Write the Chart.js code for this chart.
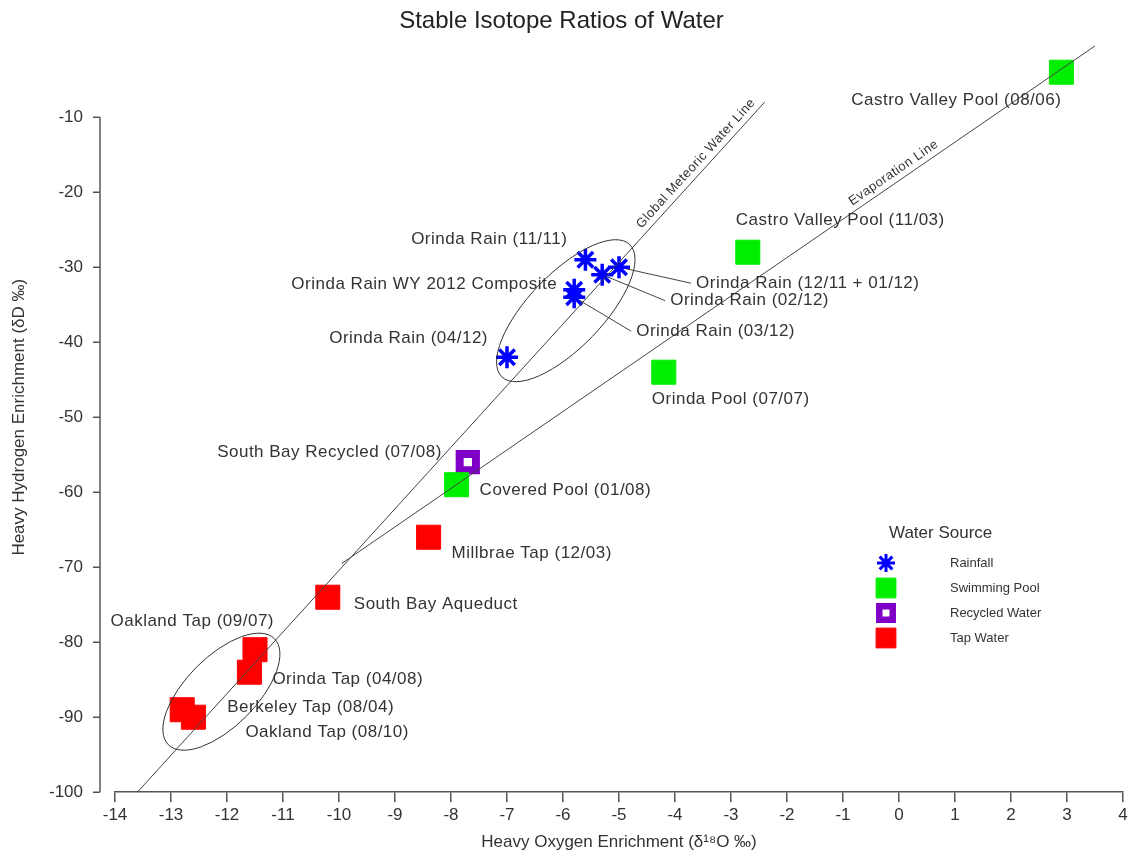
<!DOCTYPE html>
<html>
<head>
<meta charset="utf-8">
<title>Stable Isotope Ratios of Water</title>
<script src="https://cdn.jsdelivr.net/npm/chart.js@4.4.1/dist/chart.umd.min.js"></script>
<style>
  html, body { margin: 0; padding: 0; background: #fff; }
  #wrap { width: 1131px; height: 853px; }
</style>
</head>
<body>
<div id="wrap"><canvas id="isotopes"></canvas></div>
<script>
// values: x = δ18O (‰), y = δD (‰)
const rainNames = ["Orinda Rain (11/11)", "Orinda Rain (12/11 + 01/12)", "Orinda Rain (02/12)",
  "Orinda Rain WY 2012 Composite", "Orinda Rain (03/12)", "Orinda Rain (04/12)"];
const rainO = [-5.6, -5.0, -5.3, -5.8, -5.8, -7.0];
const rainD = [-29, -30, -31, -33, -34, -42];

const poolNames = ["Castro Valley Pool (08/06)", "Castro Valley Pool (11/03)", "Orinda Pool (07/07)", "Covered Pool (01/08)"];
const poolO = [2.9, -2.7, -4.2, -7.9];
const poolD = [-4, -28, -44, -59];

const recycledNames = ["South Bay Recycled (07/08)"];
const recycledO = [-7.7];
const recycledD = [-56];

const tapNames = ["Millbrae Tap (12/03)", "South Bay Aqueduct", "Oakland Tap (09/07)", "Orinda Tap (04/08)",
  "Berkeley Tap (08/04)", "Oakland Tap (08/10)"];
const tapO = [-8.4, -10.2, -11.5, -11.6, -12.8, -12.6];
const tapD = [-66, -74, -81, -84, -89, -90];

// reference lines (end points)
const gmwlO = [-13.6, -2.4];
const gmwlD = [-100, -8];
const evapO = [-9.95, 3.5];
const evapD = [-69.5, -0.5];

const xTicks = [-14, -13, -12, -11, -10, -9, -8, -7, -6, -5, -4, -3, -2, -1, 0, 1, 2, 3, 4];
const yTicks = [-100, -90, -80, -70, -60, -50, -40, -30, -20, -10];

const FONT = "'Liberation Sans', Arial, sans-serif";
Chart.defaults.font.family = FONT;
Chart.defaults.color = "#333";

// where each point label sits, in px from its marker
const labelPlace = {
  "Orinda Rain (11/11)": { dx: -18, dy: -20, align: "right" },
  "Orinda Rain (12/11 + 01/12)": { dx: 77, dy: 16, align: "left", leader: true },
  "Orinda Rain (02/12)": { dx: 68, dy: 26, align: "left", leader: true },
  "Orinda Rain WY 2012 Composite": { dx: -17, dy: -5, align: "right" },
  "Orinda Rain (03/12)": { dx: 62, dy: 34, align: "left", leader: true },
  "Orinda Rain (04/12)": { dx: -19, dy: -19, align: "right" },
  "Castro Valley Pool (08/06)": { dx: 0, dy: 28, align: "right" },
  "Castro Valley Pool (11/03)": { dx: -12, dy: -32, align: "left" },
  "Orinda Pool (07/07)": { dx: -12, dy: 27, align: "left" },
  "Covered Pool (01/08)": { dx: 23, dy: 6, align: "left" },
  "South Bay Recycled (07/08)": { dx: -26, dy: -10, align: "right" },
  "Millbrae Tap (12/03)": { dx: 23, dy: 16, align: "left" },
  "South Bay Aqueduct": { dx: 26, dy: 7, align: "left" },
  "Oakland Tap (09/07)": { dx: 19, dy: -28, align: "right" },
  "Orinda Tap (04/08)": { dx: 23, dy: 7, align: "left" },
  "Berkeley Tap (08/04)": { dx: 45, dy: -2, align: "left" },
  "Oakland Tap (08/10)": { dx: 52, dy: 15, align: "left" }
};

// hand drawn groupings: centre in data units, radii in px
const ellipses = [
  { x: -5.95, y: -35.8, rx: 92, ry: 37, angle: -46 },
  { x: -12.1, y: -86.6, rx: 75, ry: 35, angle: -45 }
];

const lineTags = [
  { text: "Global Meteoric Water Line", xs: gmwlO, ys: gmwlD, at: -3.5 },
  { text: "Evaporation Line", xs: evapO, ys: evapD, at: 0 }
];

const toPts = (xs, ys) => xs.map((v, i) => ({ x: v, y: ys[i] }));

const groups = [
  { names: rainNames, xs: rainO, ys: rainD },
  { names: poolNames, xs: poolO, ys: poolD },
  { names: recycledNames, xs: recycledO, ys: recycledD },
  { names: tapNames, xs: tapO, ys: tapD }
];

const annotations = {
  id: "annotations",
  beforeDatasetsDraw(chart) {
    const { ctx, scales: { x, y } } = chart;
    ctx.save();
    ctx.strokeStyle = "#444";
    ctx.lineWidth = 1;
    groups.forEach(g => g.names.forEach((n, i) => {
      const p = labelPlace[n];
      if (!p || !p.leader) return;
      const px = x.getPixelForValue(g.xs[i]), py = y.getPixelForValue(g.ys[i]);
      ctx.beginPath();
      ctx.moveTo(px, py);
      ctx.lineTo(px + p.dx - 5, py + p.dy);
      ctx.stroke();
    }));
    ctx.restore();
  },
  afterDatasetsDraw(chart) {
    const { ctx, scales: { x, y } } = chart;
    ctx.save();
    // ellipses
    ctx.strokeStyle = "#333";
    ctx.lineWidth = 1;
    ellipses.forEach(e => {
      ctx.beginPath();
      ctx.ellipse(x.getPixelForValue(e.x), y.getPixelForValue(e.y), e.rx, e.ry, e.angle * Math.PI / 180, 0, Math.PI * 2);
      ctx.stroke();
    });
    // point labels
    ctx.fillStyle = "#333";
    ctx.font = "17px " + FONT;
    ctx.textBaseline = "middle";
    if ("letterSpacing" in ctx) ctx.letterSpacing = "0.5px";
    groups.forEach(g => g.names.forEach((n, i) => {
      const p = labelPlace[n];
      const px = x.getPixelForValue(g.xs[i]), py = y.getPixelForValue(g.ys[i]);
      ctx.textAlign = p.align;
      ctx.fillText(n, px + p.dx, py + p.dy);
    }));
    // rotated line names
    ctx.font = "13px " + FONT;
    ctx.textAlign = "center";
    ctx.textBaseline = "bottom";
    lineTags.forEach(t => {
      const x1 = x.getPixelForValue(t.xs[0]), y1 = y.getPixelForValue(t.ys[0]);
      const x2 = x.getPixelForValue(t.xs[1]), y2 = y.getPixelForValue(t.ys[1]);
      const ang = Math.atan2(y2 - y1, x2 - x1);
      const f = (t.at - t.xs[0]) / (t.xs[1] - t.xs[0]);
      const cx = x1 + (x2 - x1) * f, cy = y1 + (y2 - y1) * f;
      ctx.save();
      ctx.translate(cx, cy);
      ctx.rotate(ang);
      ctx.fillText(t.text, 0, -3);
      ctx.restore();
    });
    ctx.restore();
  }
};

// the vertical axis stands a little apart from the plot, as in the original
const sideAxis = {
  id: "sideAxis",
  afterDraw(chart) {
    const { ctx, chartArea, scales: { y } } = chart;
    const ax = chartArea.left - 15;
    ctx.save();
    ctx.strokeStyle = "#555";
    ctx.lineWidth = 1.5;
    ctx.beginPath();
    ctx.moveTo(ax, y.getPixelForValue(yTicks[0]));
    ctx.lineTo(ax, y.getPixelForValue(yTicks[yTicks.length - 1]));
    yTicks.forEach(v => {
      const py = y.getPixelForValue(v);
      ctx.moveTo(ax - 7, py);
      ctx.lineTo(ax, py);
    });
    ctx.stroke();
    ctx.restore();
  }
};

const keyBox = { markX: 886, textX: 950, titleX: 889, titleY: 533, firstY: 563, step: 25 };

const waterKey = {
  id: "waterKey",
  afterDraw(chart) {
    const { ctx } = chart;
    ctx.save();
    ctx.fillStyle = "#333";
    ctx.font = "17px " + FONT;
    ctx.textAlign = "left";
    ctx.textBaseline = "middle";
    ctx.fillText("Water Source", keyBox.titleX, keyBox.titleY);
    ctx.font = "13px " + FONT;
    chart.data.datasets.filter(d => d.keySize).forEach((d, i) => {
      const yy = keyBox.firstY + i * keyBox.step;
      ctx.fillStyle = d.backgroundColor;
      ctx.strokeStyle = d.borderColor;
      ctx.lineWidth = d.keyBorder;
      Chart.helpers.drawPoint(ctx, { pointStyle: d.pointStyle, radius: d.keySize, borderWidth: d.keyBorder, rotation: 0 }, keyBox.markX, yy);
      ctx.fillStyle = "#333";
      ctx.fillText(d.label, keyBox.textX, yy);
    });
    ctx.restore();
  }
};

new Chart(document.getElementById("isotopes"), {
  type: "scatter",
  data: {
    datasets: [
      {
        label: "Global Meteoric Water Line",
        data: toPts(gmwlO, gmwlD),
        showLine: true,
        pointRadius: 0,
        borderColor: "#444",
        borderWidth: 1,
      },
      {
        label: "Evaporation Line",
        data: toPts(evapO, evapD),
        showLine: true,
        pointRadius: 0,
        borderColor: "#444",
        borderWidth: 1,
      },
      {
        label: "Rainfall",
        data: toPts(rainO, rainD),
        pointStyle: "star",
        pointRadius: 11,
        pointBorderWidth: 3.5,
        backgroundColor: "#0000ff",
        borderColor: "#0000ff",
        keySize: 9,
        keyBorder: 3,
      },
      {
        label: "Swimming Pool",
        data: toPts(poolO, poolD),
        pointStyle: "rect",
        pointRadius: 17,
        pointBorderWidth: 1,
        backgroundColor: "#00ee00",
        borderColor: "#00ee00",
        keySize: 14,
        keyBorder: 1,
      },
      {
        label: "Recycled Water",
        data: toPts(recycledO, recycledD),
        pointStyle: "rect",
        pointRadius: 11.5,
        pointBorderWidth: 8,
        backgroundColor: "#ffffff",
        borderColor: "#8000c8",
        keySize: 9.5,
        keyBorder: 6.5,
      },
      {
        label: "Tap Water",
        data: toPts(tapO, tapD),
        pointStyle: "rect",
        pointRadius: 17,
        pointBorderWidth: 1,
        backgroundColor: "#ff0000",
        borderColor: "#ff0000",
        keySize: 14,
        keyBorder: 1,
      },
    ],
  },
  options: {
    responsive: true,
    maintainAspectRatio: false,
    animation: false,
    layout: { autoPadding: false, padding: { left: 0, right: 8, top: 0, bottom: 0 } },
    scales: {
      x: {
        type: "linear",
        min: -14,
        max: 4,
        afterBuildTicks: s => { s.ticks = xTicks.map(v => ({ value: v })); },
        afterFit: s => { s.paddingLeft = 0; s.paddingRight = 0; },
        ticks: { font: { size: 17 }, padding: 3, maxRotation: 0 },
        grid: { drawOnChartArea: false, drawTicks: true, tickLength: 10, color: "#555", lineWidth: 1.5 },
        border: { display: true, color: "#555", width: 1.5 },
        title: {
          display: true,
          text: "Heavy Oxygen Enrichment (δ¹⁸O ‰)",
          font: { size: 17 },
          padding: { top: 4, bottom: 0 },
        },
      },
      y: {
        type: "linear",
        min: -100,
        max: 0,
        afterBuildTicks: s => { s.ticks = yTicks.map(v => ({ value: v })); },
        afterFit: s => { s.width = 115; },
        ticks: { font: { size: 17 }, padding: 32 },
        grid: { display: true, drawOnChartArea: false, drawTicks: false },
        border: { display: false },
        title: {
          display: true,
          text: "Heavy Hydrogen Enrichment (δD ‰)",
          font: { size: 17 },
          padding: { top: 9, bottom: 8 },
        },
      },
    },
    plugins: {
      legend: { display: false },
      tooltip: { enabled: false },
      title: {
        display: true,
        text: "Stable Isotope Ratios of Water",
        color: "#222",
        font: { size: 24, weight: "normal" },
        padding: { top: 6, bottom: 6 },
      },
    },
  },
  plugins: [annotations, sideAxis, waterKey],
});
</script>
</body>
</html>
